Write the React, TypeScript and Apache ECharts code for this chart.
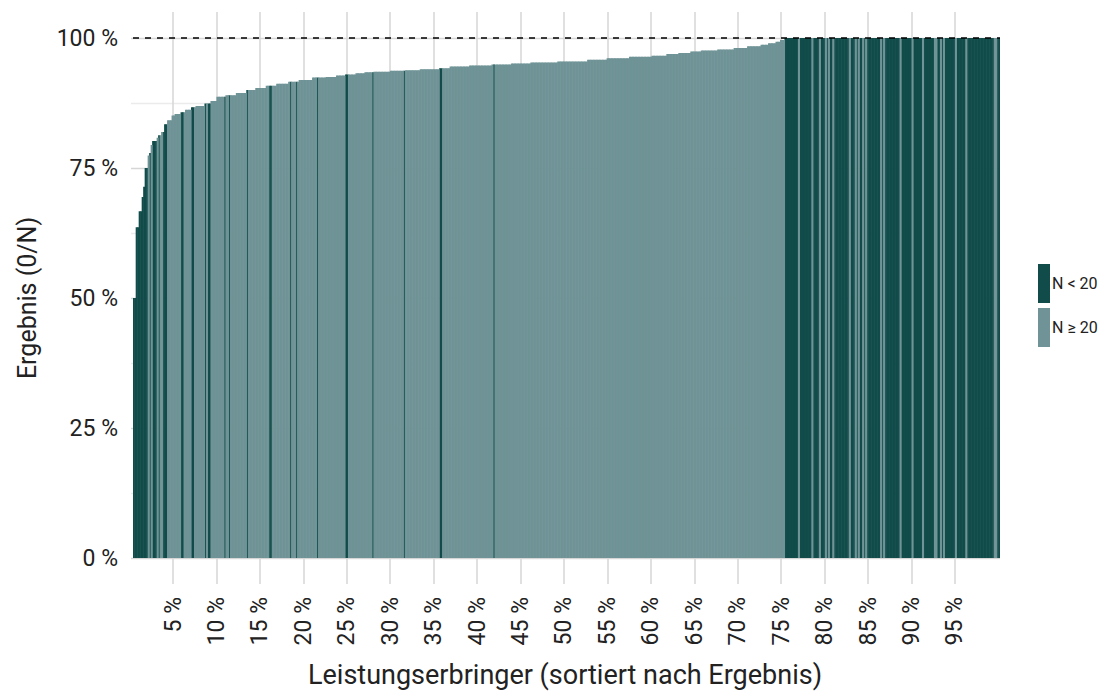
import React, { useEffect, useRef } from 'react';
import * as echarts from 'echarts';

// Sorted provider results (%), given as plateaus: value and number of providers
const RUN_VALUES = [
  50, 63.6, 66.7, 69.4, 71.4, 75, 77.4, 77.9, 79.4, 80.2, 80.8, 81.3, 81.9, 83.4, 84.2, 85.1, 85.4,
  85.7, 86.2, 86.7, 86.9, 87.4, 87.9, 88.7, 89.0, 89.4, 90.0, 90.4, 90.8, 91.2, 91.6, 91.9, 92.4,
  92.5, 92.8, 93.0, 93.2, 93.4, 93.5, 93.7, 93.8, 94.0, 94.2, 94.5, 94.7, 94.9, 95.1, 95.3, 95.5,
  95.8, 96.1, 96.4, 96.6, 96.9, 97.1, 97.4, 97.6, 97.8, 98.1, 98.4, 98.7, 99.0, 99.3, 99.6, 100,
];
const RUN_COUNTS = [
  2, 2, 2, 1, 1, 2, 1, 1, 1, 3, 1, 2, 2, 2, 3, 2, 4,
  3, 4, 3, 6, 4, 4, 6, 7, 7, 6, 7, 7, 8, 7, 9, 9,
  7, 6, 7, 6, 6, 11, 10, 10, 13, 7, 13, 15, 13, 13, 18, 20,
  13, 15, 15, 10, 8, 8, 7, 11, 11, 9, 9, 5, 5, 3, 3, 144,
];

// Rank ranges (inclusive) of providers with N < 20
const SMALL_N_RANGES: [number, number][] = [
  [0, 9], [11, 11], [13, 15], [17, 17], [20, 22], [32, 33], [39, 40], [48, 48], [50, 51],
  [61, 61], [64, 64], [76, 76], [91, 92], [105, 105], [109, 109], [123, 123], [142, 143],
  [160, 160], [181, 181], [205, 206], [241, 241],
  [436, 444], [446, 453], [455, 458], [460, 462], [464, 464], [466, 467], [469, 478],
  [480, 482], [484, 484], [486, 487], [489, 489], [491, 499], [501, 501], [503, 512],
  [514, 520], [522, 527], [529, 535], [538, 539], [541, 541], [543, 549], [551, 556],
  [558, 575], [578, 579],
];

const Y_LABELS = [0, 25, 50, 75, 100];
const X_LABELS = [5, 10, 15, 20, 25, 30, 35, 40, 45, 50, 55, 60, 65, 70, 75, 80, 85, 90, 95];

const SERIES_NAMES = ['N < 20', 'N \u2265 20'];
const DARK = '#114c4a';
const LIGHT = '#6f9396';
const FONT = 'Roboto, "Noto Sans", sans-serif';

export default function App() {
  const ref = useRef<HTMLDivElement>(null);

  useEffect(() => {
    const chart = echarts.init(ref.current!, null, { renderer: 'svg' });

    const values: number[] = [];
    RUN_VALUES.forEach((v, i) => {
      for (let k = 0; k < RUN_COUNTS[i]; k++) values.push(v);
    });
    const isSmall = values.map((_, r) => SMALL_N_RANGES.some(([a, b]) => r >= a && r <= b));
    const cats = values.map((_, i) => String(i + 1));
    const darkData = values.map((v, i) => (isSmall[i] ? v : '-'));
    const lightData = values.map((v, i) => (isSmall[i] ? '-' : v));

    const option: any = {
      animation: false,
      backgroundColor: '#ffffff',
      textStyle: { fontFamily: FONT },
      grid: [
        { left: 133, right: 102, top: 12, bottom: 107 },
        { left: 131, right: 102, top: 12, bottom: 133 },
        { left: 129.56, right: 103.6, top: 12, bottom: 107 },
      ],
      xAxis: [
        { type: 'category', gridIndex: 0, data: cats, show: false, boundaryGap: true },
        { type: 'value', gridIndex: 1, min: 0, max: 1, show: false },
        {
          type: 'value', gridIndex: 2, min: 0, max: 100, interval: 5,
          axisLine: { show: false }, axisTick: { show: false },
          splitLine: { show: true, showMinLine: false, showMaxLine: false, lineStyle: { color: '#d6d6d6', width: 1.5 } },
          axisLabel: {
            rotate: 90, margin: 13, fontSize: 23, color: '#222', fontFamily: FONT,
            showMinLabel: false, showMaxLabel: false,
            formatter: (v: number) => (X_LABELS.includes(v) ? `${v} %` : ''),
          },
        },
      ],
      yAxis: [
        { type: 'value', gridIndex: 0, min: -5, max: 105, show: false },
        {
          type: 'value', gridIndex: 1, min: 0, max: 105, interval: 12.5,
          axisLine: { show: false }, axisTick: { show: false },
          splitLine: { show: true, showMinLine: true, showMaxLine: false, lineStyle: { color: ['#d6d6d6', '#ebebeb'], width: 1.3 } },
          axisLabel: {
            margin: 13, fontSize: 23, color: '#222', fontFamily: FONT,
            formatter: (v: number) => (Y_LABELS.includes(v) ? `${v} %` : ''),
          },
        },
        { type: 'value', gridIndex: 2, min: 0, max: 1, show: false },
      ],
      legend: {
        orient: 'vertical', left: 1038, top: 264, padding: 0,
        itemWidth: 12, itemHeight: 39, itemGap: 5, icon: 'rect',
        data: SERIES_NAMES,
        itemStyle: { borderWidth: 0 },
        textStyle: { fontSize: 16, color: '#222', fontFamily: FONT, padding: [0, 0, 0, -3] },
      },
      series: [
        {
          name: SERIES_NAMES[0], type: 'bar', xAxisIndex: 0, yAxisIndex: 0,
          data: darkData, barGap: '-100%', barWidth: 2.1,
          itemStyle: { color: DARK, borderWidth: 0 },
          silent: true, z: 2,
        },
        {
          name: SERIES_NAMES[1], type: 'bar', xAxisIndex: 0, yAxisIndex: 0,
          data: lightData, barGap: '-100%', barWidth: 2.1,
          itemStyle: { color: LIGHT, borderWidth: 0 },
          silent: true, z: 2,
          markLine: {
            silent: true, symbol: 'none', z: 10,
            label: { show: false },
            lineStyle: { color: '#000', type: [6, 6], width: 1.5 },
            data: [{ yAxis: 100 }],
          },
        },
      ],
      graphic: [
        {
          type: 'text', x: 27, y: 298, rotation: Math.PI / 2,
          style: { text: 'Ergebnis (0/N)', fontSize: 25, fill: '#222', fontFamily: FONT, align: 'center', verticalAlign: 'middle' },
        },
        {
          type: 'text', x: 565, y: 675,
          style: { text: 'Leistungserbringer (sortiert nach Ergebnis)', fontSize: 27, fill: '#222', fontFamily: FONT, align: 'center', verticalAlign: 'middle' },
        },
      ],
    };

    chart.setOption(option);
    return () => chart.dispose();
  }, []);

  return <div ref={ref} style={{ position: 'fixed', left: 0, top: 0, width: 1102, height: 691 }} />;
}
